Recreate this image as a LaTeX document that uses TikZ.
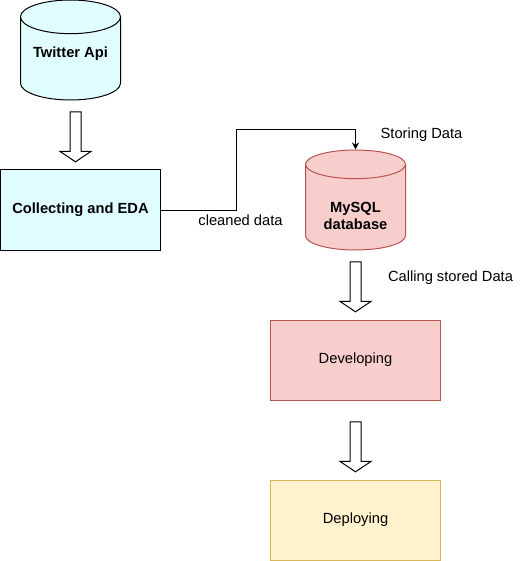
\documentclass[tikz,border=0pt]{standalone}
\usepackage{fontspec}
\setmainfont{Liberation Sans}
\usetikzlibrary{shapes.geometric,shapes.arrows,calc,arrows.meta}

\definecolor{apicyan}{HTML}{E0FEFF}
\definecolor{redfill}{HTML}{F8CECC}
\definecolor{redline}{HTML}{B85450}
\definecolor{yellowfill}{HTML}{FFF2CC}
\definecolor{yellowline}{HTML}{D6B656}

\tikzset{
  base/.style       = {line width=1pt, inner sep=0pt, align=center,
                       font=\fontsize{14.7}{17.6}\selectfont},
  database/.style   = {base, cylinder, shape border rotate=90, aspect=0.45,
                       anchor=shape center, minimum width=100pt, minimum height=100pt,
                       font=\bfseries\fontsize{14.7}{17.6}\selectfont},
  stepbox/.style    = {base, rectangle, minimum width=170pt, minimum height=80pt},
  blockarrow/.style = {single arrow, draw, line width=1pt, fill=white, inner sep=5pt,
                       shape border rotate=270, minimum height=50pt,
                       single arrow head extend=10pt, single arrow tip angle=112},
  lbl/.style        = {font=\fontsize{14.7}{17.6}\selectfont, inner sep=0pt}
}

\begin{document}
\begin{tikzpicture}[x=1pt, y=-1pt]
  \useasboundingbox (-0.5,0) rectangle (521,561);

  % sources and stores
  \node[database, draw=black, fill=apicyan] (api) at (70,50)
       {\raisebox{5pt}[\height][\depth]{Twitter Api}};
  \node[base, rectangle, draw=black, fill=apicyan, minimum width=160pt, minimum height=80pt,
        font=\bfseries\fontsize{14.7}{17.6}\selectfont]
       (collect) at (80,210) {Collecting and EDA};
  \node[database, draw=redline, fill=redfill] (db) at (355,200)
       {\raisebox{-10pt}[\height][\depth]{\begin{tabular}{@{}c@{}}MySQL\\database\end{tabular}}};

  % steps
  \node[stepbox, draw=redline, fill=redfill] (develop) at (355,360) {Developing};
  \node[stepbox, draw=yellowline, fill=yellowfill] (deploy) at (355,520) {Deploying};

  % block arrows
  \node[blockarrow] (arrapi) at ($(api.south)!0.5!(collect.north)$) {};
  \node[blockarrow] (arrdb)  at ($(db.south)!0.5!(develop.north)$) {};
  \node[blockarrow] (arrdev) at ($(develop.south)!0.5!(deploy.north)+(0,5)$) {};

  % connector
  \draw[line width=1pt, -{Stealth[length=7pt,width=7pt]}]
       (collect.east) -- ++(75,0) |- ($(db.north)+(0,-20)$) -- (db.north);

  % labels
  \node[lbl] (cleaned) at (240,220) {cleaned data};
  \node[lbl] (storing) at (421,135) {Storing Data};
  \node[lbl] (calling) at (450,278) {Calling stored Data};
\end{tikzpicture}
\end{document}
